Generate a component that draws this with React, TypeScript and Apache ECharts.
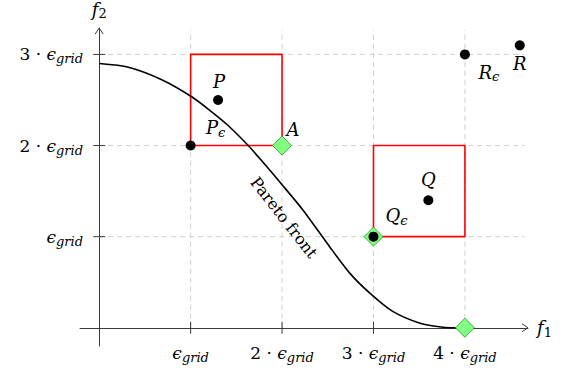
import React, { useEffect, useRef } from 'react';
import * as echarts from 'echarts';

// ---- data ----
const xTicks = [1, 2, 3, 4];
const yTicks = [1, 2, 3];
const tickCoefficients = ['', '2 · ', '3 · ', '4 · '];
const xRange = [-0.21, 4.69];
const yRange = [-0.2, 3.29];
const gridExtentX = 4.65;
const gridExtentY = 3.27;

const paretoFront = [
  [0, 2.9], [0.32, 2.86], [0.69, 2.72], [1.02, 2.53], [1.23, 2.37], [1.41, 2.22],
  [1.63, 2.0], [1.78, 1.83], [2.0, 1.57], [2.23, 1.29], [2.52, 0.89], [2.74, 0.6],
  [2.96, 0.38], [3.21, 0.18], [3.51, 0.05], [3.76, 0.005], [3.9, 0],
];
const boxes = [
  [[1, 2], [2, 2], [2, 3], [1, 3], [1, 2]],
  [[3, 1], [4, 1], [4, 2], [3, 2], [3, 1]],
];
const pointNames = ['P', 'Pe', 'Q', 'Qe', 'Re', 'R'];
const pointValues = [[1.3, 2.5], [1, 2], [3.6, 1.4], [3, 1], [4, 3], [4.6, 3.1]];
const diamondNames = ['A', '', ''];
const diamondValues = [[2, 2], [3, 1], [4, 0]];
const frontLabel = 'Pareto front';
const frontLabelAt = [2.02, 1.21];

const FONT = 'DejaVu Serif';

const labelTexts: Record<string, string> = {
  P: '{i|P}',
  Pe: '{i|P}{s|ϵ}',
  Q: '{i|Q}',
  Qe: '{i|Q}{s|ϵ}',
  Re: '{i|R}{s|ϵ}',
  R: '{i|R}',
  A: '{i|A}',
  '': '',
};
const labelOffsets: Record<string, number[]> = {
  P: [1, -18],
  Pe: [25, -18],
  Q: [0, -21],
  Qe: [23, -21],
  Re: [24, 18],
  R: [0, 18],
  A: [11, -16],
  '': [0, 0],
};

function makeRich(size: number, sub: number) {
  return {
    n: { fontFamily: FONT, fontSize: size, fontStyle: 'normal', fontWeight: 'normal', color: '#000' },
    i: { fontFamily: FONT, fontSize: size, fontStyle: 'italic', fontWeight: 'normal', color: '#000' },
    s: { fontFamily: FONT, fontSize: sub, fontStyle: 'italic', fontWeight: 'normal', color: '#000', padding: [9, 0, 0, 0] },
    d: { fontFamily: FONT, fontSize: sub, fontStyle: 'normal', fontWeight: 'normal', color: '#000', padding: [9, 0, 0, 0] },
  };
}

function tickLabel(v: number) {
  const idx = xTicks.indexOf(v);
  const coef = idx >= 0 ? tickCoefficients[idx] : '';
  return (coef ? '{n|' + coef + '}' : '') + '{i|ϵ}{s|grid}';
}

export default function App() {
  const ref = useRef<HTMLDivElement>(null);
  useEffect(() => {
    document.body.style.margin = '0';
    if (!ref.current) return;
    const chart = echarts.init(ref.current, undefined, { renderer: 'svg' });

    const gridLines: any[] = [];
    xTicks.forEach((x) => {
      gridLines.push({
        type: 'line', data: [[x, 0], [x, gridExtentY]], symbol: 'none', z: 1, silent: true,
        lineStyle: { color: '#cfcfcf', width: 1, type: [5, 4] },
      });
    });
    yTicks.forEach((y) => {
      gridLines.push({
        type: 'line', data: [[0, y], [gridExtentX, y]], symbol: 'none', z: 1, silent: true,
        lineStyle: { color: '#cfcfcf', width: 1, type: [5, 4] },
      });
    });

    const option: any = {
      animation: false,
      textStyle: { fontFamily: FONT },
      grid: { left: 80, right: 45, top: 28, bottom: 27, containLabel: false, outerBoundsMode: 'none' },
      xAxis: {
        type: 'value', min: xRange[0], max: xRange[1],
        axisLine: { onZero: true, lineStyle: { color: '#3a3a3a', width: 1 } },
        axisTick: { show: false },
        splitLine: { show: false },
        axisLabel: { customValues: xTicks, formatter: (v: number) => tickLabel(v), margin: -4, fontFamily: FONT, fontSize: 17, color: '#000', rich: makeRich(17, 13) },
        name: '{i|f}{d|1}', nameLocation: 'end', nameGap: 9,
        nameTextStyle: { rich: makeRich(18, 13), fontFamily: FONT, fontSize: 18, verticalAlign: 'middle' },
      },
      yAxis: {
        type: 'value', min: yRange[0], max: yRange[1],
        axisLine: { onZero: true, lineStyle: { color: '#3a3a3a', width: 1 } },
        axisTick: { show: false },
        splitLine: { show: false },
        axisLabel: { customValues: yTicks, formatter: (v: number) => tickLabel(v), margin: -3, fontFamily: FONT, fontSize: 17, color: '#000', rich: makeRich(17, 13) },
        name: '{i|f}{d|2}', nameLocation: 'end', nameGap: 8,
        nameTextStyle: { rich: makeRich(18, 13), fontFamily: FONT, fontSize: 18, align: 'center' },
      },
      series: [
        ...gridLines,
        {
          type: 'scatter', data: xTicks.slice(0, 3).map((x) => [x, 0]), symbol: 'rect',
          symbolSize: [1, 12], itemStyle: { color: '#3a3a3a', opacity: 1 }, z: 3, silent: true,
        },
        {
          type: 'scatter', data: yTicks.map((y) => [0, y]), symbol: 'rect',
          symbolSize: [12, 1], itemStyle: { color: '#3a3a3a', opacity: 1 }, z: 3, silent: true,
        },
        {
          type: 'custom', z: 3, silent: true,
          data: [[xRange[1], 0, 0], [0, yRange[1], 1]],
          renderItem: (params: any, api: any) => {
            const p = api.coord([api.value(0), api.value(1)]);
            const up = api.value(2) === 1;
            const pts = up
              ? [[p[0] - 4, p[1] + 6], [p[0], p[1]], [p[0] + 4, p[1] + 6]]
              : [[p[0] - 6, p[1] - 4], [p[0], p[1]], [p[0] - 6, p[1] + 4]];
            return { type: 'polyline', shape: { points: pts }, style: { stroke: '#3a3a3a', fill: 'none', lineWidth: 1 } };
          },
        },
        ...boxes.map((b) => ({
          type: 'line', data: b, symbol: 'none', z: 4, silent: true,
          lineStyle: { color: '#ff0000', width: 1.6 },
        })),
        {
          type: 'line', data: paretoFront, symbol: 'none', smooth: 0.25, z: 5, silent: true,
          lineStyle: { color: '#000', width: 1.6 },
        },
        {
          type: 'scatter', symbol: 'diamond', symbolSize: 19, z: 6, silent: true,
          data: diamondValues.map((v, i) => ({
            value: v, name: diamondNames[i],
            label: { show: diamondNames[i] !== '', position: 'inside', offset: labelOffsets[diamondNames[i]], formatter: labelTexts[diamondNames[i]], fontFamily: FONT, fontSize: 18, color: '#000', rich: makeRich(18, 13) },
          })),
          itemStyle: { color: '#80ff80', borderColor: '#1f9a1f', borderWidth: 0.8, opacity: 1 },
        },
        {
          type: 'scatter', symbol: 'circle', symbolSize: 10, z: 7, silent: true,
          data: pointValues.map((v, i) => ({
            value: v, name: pointNames[i],
            label: { show: true, position: 'inside', offset: labelOffsets[pointNames[i]], formatter: labelTexts[pointNames[i]], fontFamily: FONT, fontSize: 18, color: '#000', rich: makeRich(18, 13) },
          })),
          itemStyle: { color: '#000', opacity: 1 },
        },
        {
          type: 'scatter', symbolSize: 0, z: 8, silent: true,
          itemStyle: { opacity: 1 },
          data: [{ value: frontLabelAt, name: frontLabel }],
          label: {
            show: true, position: 'inside', formatter: '{b}', rotate: -52,
            fontFamily: FONT, fontSize: 16, color: '#000', opacity: 1,
          },
        },
      ],
    };
    chart.setOption(option);
    return () => chart.dispose();
  }, []);
  return <div ref={ref} style={{ width: 573, height: 373 }} />;
}
